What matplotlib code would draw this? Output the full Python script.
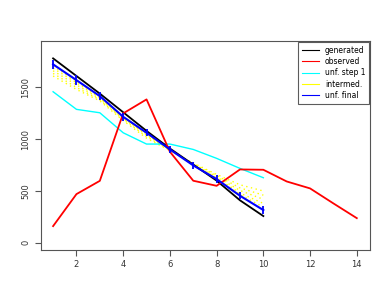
import matplotlib
matplotlib.use("Agg")
import matplotlib.pyplot as plt
from matplotlib.lines import Line2D

x_gen = [1, 2, 3, 4, 5, 6, 7, 8, 9, 10]
x_obs = [1, 2, 3, 4, 5, 6, 7, 8, 9, 10, 11, 12, 13, 14]

generated = [1780, 1610, 1440, 1260, 1080, 910, 755, 600, 410, 258]
observed = [161, 470, 598, 1249, 1384, 879, 599, 550, 708, 705, 592, 525, 380, 238]
unf_step1 = [1458, 1288, 1255, 1062, 953, 953, 901, 815, 718, 628]
unf_final = [1722, 1570, 1416, 1216, 1062, 901, 747, 615, 454, 316]
unf_err = [45, 45, 40, 40, 35, 35, 35, 35, 35, 35]

intermed_1 = [1610, 1480, 1370, 1180, 1010, 890, 770, 660, 560, 500]
intermed_2 = [1635, 1500, 1380, 1190, 1025, 893, 763, 650, 530, 460]
intermed_3 = [1660, 1525, 1390, 1200, 1040, 896, 757, 638, 505, 420]
intermed_4 = [1685, 1545, 1400, 1205, 1050, 898, 752, 628, 480, 380]
intermed_5 = [1705, 1560, 1410, 1212, 1058, 900, 749, 620, 465, 345]

xticks = [2, 4, 6, 8, 10, 12, 14]
yticks = [0, 500, 1000, 1500]

fig = plt.figure(figsize=(3.9, 3.02), dpi=100)
ax = fig.add_axes([0.105, 0.172, 0.844, 0.692])

for yi in [intermed_1, intermed_2, intermed_3, intermed_4, intermed_5]:
    ax.plot(x_gen, yi, color="yellow", linestyle=(0, (1, 2.5)), linewidth=1.0)
ax.plot(x_gen, unf_step1, color="cyan", linewidth=1.0)
ax.plot(x_gen, generated, color="black", linewidth=1.3)
ax.plot(x_obs, observed, color="red", linewidth=1.3)
ax.plot(x_gen, unf_final, color="blue", linewidth=1.5)
ax.errorbar(x_gen, unf_final, yerr=unf_err, fmt="none", ecolor="blue", elinewidth=1.3, capsize=0)

ax.set_xlim(0.48, 14.57)
ax.set_ylim(-70, 1947)
ax.set_xticks(xticks)
ax.set_yticks(yticks)
ax.tick_params(labelsize=6, length=4, color="#555555", labelcolor="#333333", direction="out")
for lab in ax.get_yticklabels():
    lab.set_rotation(90)
    lab.set_va("center")
for s in ax.spines.values():
    s.set_color("#555555")
    s.set_linewidth(0.8)

handles = [
    Line2D([], [], color="black", linewidth=0.8),
    Line2D([], [], color="red", linewidth=0.8),
    Line2D([], [], color="cyan", linewidth=0.8),
    Line2D([], [], color="yellow", linewidth=0.8),
    Line2D([], [], color="blue", linewidth=0.8),
]
labels = ["generated", "observed", "unf. step 1", "intermed.", "unf. final"]
leg = ax.legend(handles, labels, loc="upper right", fontsize=5.5, frameon=True,
                fancybox=False, borderaxespad=0.1, handlelength=2.2,
                labelspacing=0.3, borderpad=0.5, handletextpad=0.8)
leg.get_frame().set_edgecolor("#333333")
leg.get_frame().set_linewidth(0.8)

fig.savefig("out.png", dpi=100)
